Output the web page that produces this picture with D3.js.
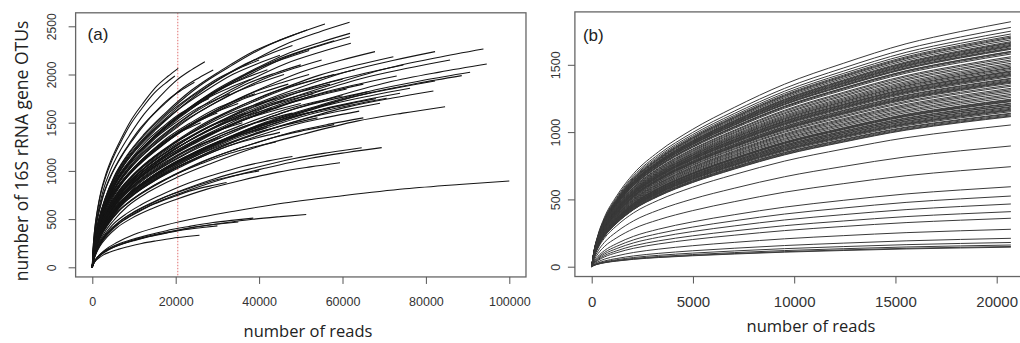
<!DOCTYPE html>
<html>
<head>
<meta charset="utf-8">
<script src="https://cdn.jsdelivr.net/npm/d3@7"></script>
<style>
  body { margin: 0; background: #fff; }
  svg { display: block; }
  .tick text { font-family: 'Liberation Sans', Arial, sans-serif; fill: #333; }
  .tick line { stroke: #555; }
  .title { font-family: 'Open Sans', sans-serif; fill: #222; }
  .tag { font-family: 'Liberation Sans', Arial, sans-serif; fill: #222; }
</style>
</head>
<body>
<svg id="chart" width="1020" height="343"></svg>
<script>
// shared rarefaction profile (fraction of depth -> fraction of final OTUs)
const depthFrac = [0, 0.005, 0.015, 0.03, 0.06, 0.1, 0.16, 0.24, 0.34, 0.46, 0.6, 0.75, 0.88, 1];
const otuFrac = [0, 0.06, 0.13, 0.2, 0.29, 0.38, 0.47, 0.56, 0.65, 0.745, 0.83, 0.91, 0.96, 1];

// panel (a): end point of each sample curve
const readsA = [20600, 19800, 27000, 29000, 24500,
  55800, 61700, 51500, 61800, 61800, 62000, 58000, 48000,
  67800, 72200, 82200, 85800, 93800, 94600, 90600, 88600, 82200, 81800, 76200, 73000, 74600, 84600, 70600, 73800, 69000,
  69400, 64600, 59400, 32200, 48000, 40000, 44000,
  100000, 51300, 38600, 25700, 30000, 35000,
  40000, 42000, 45000, 38000, 50000, 52000, 55000, 47000, 58000, 60000, 63000, 65000, 56000, 53000, 44000, 60000,
  66000, 62000, 57000, 48000, 68000, 64000, 54000, 35000, 33000, 30000, 36000, 42000, 58000, 65000,
  46000, 50000, 39000, 52000, 43000, 57000, 61000, 37000, 28000, 26000, 31000, 45000];
const otusA = [2064, 1985, 2133, 2046, 1920,
  2524, 2541, 2461, 2427, 2392, 2324, 2350, 2300,
  2237, 2185, 2237, 2150, 2264, 2109, 2023, 1988, 1933, 1829, 1857, 1984, 2099, 1666, 1753, 1805, 1701,
  1241, 1241, 1085, 880, 1150, 1000, 1300,
  895, 548, 510, 332, 430, 470,
  2150, 2050, 2200, 1950, 2100, 2000, 2150, 1900, 2000, 1950, 2050, 1900, 1850, 1800, 1750, 1780,
  1820, 1700, 1650, 1600, 1750, 1620, 1550, 1700, 1800, 1600, 1500, 1450, 1480, 1550,
  2000, 1700, 1800, 2250, 1650, 1900, 1850, 1600, 1750, 1500, 1350, 1400];
const cutoffA = 20500;

// panel (b): all samples rarefied to one depth
const depthB = 20700;
const otusB = [1820, 1778, 1750, 1729, 1714, 1705, 1697, 1685, 1672, 1665, 1660, 1652, 1645, 1640, 1634, 1625, 1620,
  1615, 1600, 1597, 1590, 1580, 1560, 1550, 1536, 1525, 1511, 1500, 1490, 1480, 1474, 1465, 1455, 1450, 1445,
  1437, 1430, 1425, 1420, 1412, 1400, 1395, 1387, 1380, 1375, 1370, 1363, 1350, 1340, 1325, 1315, 1305, 1293,
  1280, 1270, 1258, 1245, 1240, 1235, 1230, 1226, 1215, 1210, 1201, 1200, 1190, 1185, 1177, 1170, 1165, 1160,
  1152, 1140, 1135, 1127, 1120, 1115, 1053, 897, 743, 594, 525, 466, 409, 360, 278, 211, 180, 161, 150, 145];

const ticksA_x = [0, 20000, 40000, 60000, 80000, 100000];
const ticksA_y = [0, 500, 1000, 1500, 2000, 2500];
const ticksB_x = [0, 5000, 10000, 15000, 20000];
const ticksB_y = [0, 500, 1000, 1500];

const svg = d3.select('#chart');

function curvePoints(reads, otus) {
  return depthFrac.map((f, i) => [f * reads, otuFrac[i] * otus]);
}

function drawPanel(opt) {
  const g = svg.append('g');
  const x = d3.scaleLinear().domain(opt.xDom).range(opt.xRange);
  const y = d3.scaleLinear().domain(opt.yDom).range(opt.yRange);

  const line = d3.line()
    .x(d => x(d[0]))
    .y(d => y(d[1]))
    .curve(d3.curveMonotoneX);

  const clip = 'clip-' + opt.tag;
  g.append('clipPath').attr('id', clip)
    .append('rect')
    .attr('x', x(opt.box[0])).attr('y', y(opt.box[3]))
    .attr('width', x(opt.box[1]) - x(opt.box[0]))
    .attr('height', y(opt.box[2]) - y(opt.box[3]));

  const lines = g.append('g').attr('clip-path', `url(#${clip})`);

  if (opt.cutoff) {
    lines.append('line')
      .attr('x1', x(opt.cutoff)).attr('x2', x(opt.cutoff))
      .attr('y1', y(opt.box[3])).attr('y2', y(opt.box[2]))
      .attr('stroke', '#e07070')
      .attr('stroke-width', 1)
      .attr('stroke-dasharray', '1.5,1.5');
  }

  lines.selectAll('path.curve')
    .data(opt.curves)
    .enter()
    .append('path')
    .attr('class', 'curve')
    .attr('fill', 'none')
    .attr('stroke', opt.stroke)
    .attr('stroke-width', opt.strokeWidth)
    .attr('stroke-linejoin', 'round')
    .attr('d', line);

  // plot frame
  g.append('rect')
    .attr('x', x(opt.box[0])).attr('y', y(opt.box[3]))
    .attr('width', x(opt.box[1]) - x(opt.box[0]))
    .attr('height', y(opt.box[2]) - y(opt.box[3]))
    .attr('fill', 'none')
    .attr('stroke', '#666')
    .attr('stroke-width', 1.3);

  const bottom = y(opt.box[2]);
  const left = x(opt.box[0]);

  const xAxis = g.append('g')
    .attr('transform', `translate(0,${bottom})`)
    .call(d3.axisBottom(x).tickValues(opt.xTicks).tickSize(7).tickFormat(d3.format('d')));
  xAxis.select('.domain').remove();
  xAxis.selectAll('text')
    .attr('y', opt.xLabelOffset)
    .attr('dy', '0.35em')
    .style('font-size', opt.xFont + 'px');

  const yAxis = g.append('g')
    .attr('transform', `translate(${left},0)`)
    .call(d3.axisLeft(y).tickValues(opt.yTicks).tickSize(7).tickFormat(d3.format('d')));
  yAxis.select('.domain').remove();
  yAxis.selectAll('text')
    .attr('x', 0)
    .attr('y', -opt.yLabelOffset)
    .attr('dy', '0.35em')
    .attr('text-anchor', 'middle')
    .attr('transform', 'rotate(-90)')
    .style('font-size', opt.yFont + 'px');

  g.append('text')
    .attr('class', 'title')
    .attr('x', opt.xTitlePos[0]).attr('y', opt.xTitlePos[1])
    .attr('text-anchor', 'middle')
    .attr('dy', '0.35em')
    .style('font-size', '16.5px')
    .text('number of reads');

  g.append('text')
    .attr('class', 'tag')
    .attr('x', left + opt.tagPos[0]).attr('y', y(opt.box[3]) + opt.tagPos[1])
    .style('font-size', '17px')
    .text(`(${opt.tag})`);
}

drawPanel({
  tag: 'a',
  xDom: [0, 100000], xRange: [92.3, 509.3],
  yDom: [0, 2500], yRange: [267.3, 26.3],
  box: [-4000, 104000, -100, 2640],
  curves: readsA.map((r, i) => curvePoints(r, otusA[i])),
  stroke: '#151515', strokeWidth: 1.1,
  cutoff: cutoffA,
  xTicks: ticksA_x, yTicks: ticksA_y,
  xLabelOffset: 25, xFont: 12.5,
  yLabelOffset: 23.5, yFont: 12,
  xTitlePos: [308, 331],
  tagPos: [12, 27]
});

drawPanel({
  tag: 'b',
  xDom: [0, 20000], xRange: [591.7, 996.7],
  yDom: [0, 1500], yRange: [266.7, 64.8],
  box: [-830, 21530, -73, 1893],
  curves: otusB.map(v => curvePoints(depthB, v)),
  stroke: '#3a3a3a', strokeWidth: 1,
  cutoff: null,
  xTicks: ticksB_x, yTicks: ticksB_y,
  xLabelOffset: 25, xFont: 15,
  yLabelOffset: 19.5, yFont: 12.5,
  xTitlePos: [811, 326],
  tagPos: [8, 29]
});

// shared y axis title
svg.append('text')
  .attr('class', 'title')
  .attr('transform', 'translate(22,151) rotate(-90)')
  .attr('text-anchor', 'middle')
  .attr('dy', '0.35em')
  .style('font-size', '17.5px')
  .text('number of 16S rRNA gene OTUs');
</script>
</body>
</html>
